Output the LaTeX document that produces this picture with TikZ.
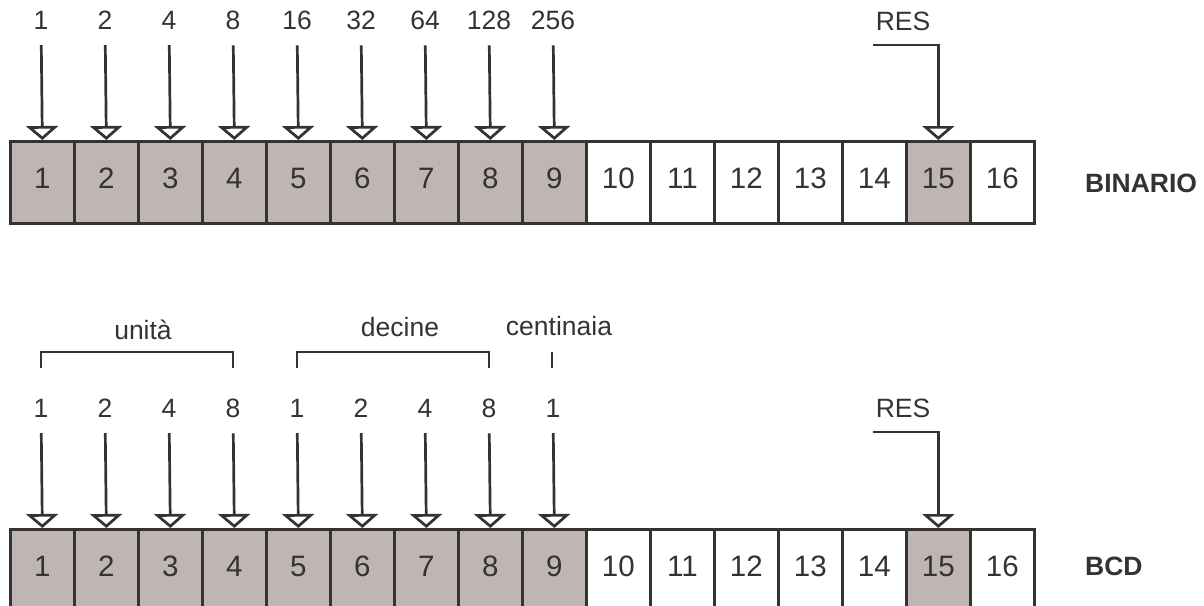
\documentclass[tikz,border=0pt]{standalone}
\usepackage{fontspec}
\setmainfont{Liberation Sans}
\usetikzlibrary{arrows.meta}
\definecolor{ink}{HTML}{333333}
\definecolor{cellgray}{HTML}{BFB6B3}

\begin{document}
\begin{tikzpicture}[x=1pt,y=-1pt,
  lw/.style={line width=2.7pt},
  cell/.style={draw=ink, lw, minimum width=64pt, minimum height=82pt,
    inner sep=0pt, anchor=north west, text=ink,
    text height=19pt, text depth=7pt,
    font=\fontsize{29.5}{32}\selectfont},
  on/.style={fill=cellgray},
  off/.style={fill=white},
  lbl/.style={anchor=base, inner sep=0pt, text=ink, font=\fontsize{26.5}{28}\selectfont},
  title/.style={anchor=base west, inner sep=0pt, text=ink, font=\fontsize{26.5}{28}\selectfont\bfseries},
  arr/.style={draw=ink, lw, -{Triangle[fill=white, length=14pt, width=32pt]}},
  brk/.style={draw=ink, lw},
]
\useasboundingbox (0,0) rectangle (1204,605);

% ---- binary register ----
\foreach \i in {1,...,16} {
  \ifnum\i<10 \def\st{on}\else\ifnum\i=15 \def\st{on}\else\def\st{off}\fi\fi
  \node[cell,\st] (c\i) at ({9+64*(\i-1)},140) {\i};
}
\foreach \i/\v in {1/1,2/2,3/4,4/8,5/16,6/32,7/64,8/128,9/256} {
  \node[lbl] (t\i) at ({41+64*(\i-1)},29) {\v};
  \draw[arr, shorten <=16pt] (t\i) -- (c\i.north);
}
\node[lbl] (tres) at (903,30) {RES};
\coordinate (trs) at (873,45);
\draw[arr] (trs) -- (trs -| c15.north) -- (c15.north);
\node[title] (bin) at (1085,192) {BINARIO};

% ---- BCD register ----
\foreach \i in {1,...,16} {
  \ifnum\i<10 \def\st{on}\else\ifnum\i=15 \def\st{on}\else\def\st{off}\fi\fi
  \node[cell,\st] (d\i) at ({9+64*(\i-1)},528) {\i};
}
\foreach \i/\v in {1/1,2/2,3/4,4/8,5/1,6/2,7/4,8/8,9/1} {
  \node[lbl] (b\i) at ({41+64*(\i-1)},417) {\v};
  \draw[arr, shorten <=16pt] (b\i) -- (d\i.north);
}
\node[lbl] (bres) at (903,417) {RES};
\coordinate (brs) at (873,432);
\draw[arr] (brs) -- (brs -| d15.north) -- (d15.north);
\node[title] (bcd) at (1085,575) {BCD};

% ---- digit groups ----
\node[lbl] (unita) at (143,339) {unità};
\node[lbl] (decine) at (400,336) {decine};
\node[lbl] (cent) at (559,335) {centinaia};
\draw[brk] (41,368) -- (41,352) -- (233,352) -- (233,368);
\draw[brk] (297,368) -- (297,352) -- (489,352) -- (489,368);
\draw[brk] (552,352) -- (552,368);
\end{tikzpicture}
\end{document}
